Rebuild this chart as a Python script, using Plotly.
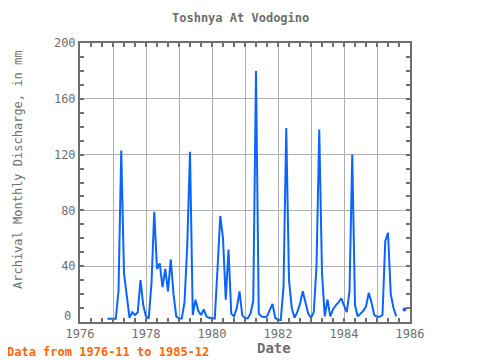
import pandas as pd
import plotly.graph_objects as go

start_month = "1976-11"
end_month = "1985-12"
discharge = [
    2.4, 2.4, 2.4, 2.4, 22, 123, 35, 20, 3, 7, 5, 7, 30, 12,
    4, 2.5, 28, 79, 38, 42, 25, 38, 22, 45, 20, 4,
    2.5, 2.5, 14, 55, 122, 5, 16, 8, 5, 9, 4, 3,
    2.5, 2.5, 38, 76, 60, 16, 52, 6, 4, 10, 22, 5,
    2.6, 2.6, 6, 15, 180, 6, 4, 3.5, 4, 8, 13, 3,
    1.5, 1.5, 25, 139, 30, 10, 3, 7, 13, 22, 14, 6,
    3, 7, 40, 138, 35, 4, 16, 4, 9, 12, 14, 17,
    12, 7, 22, 120, 12, 4, 6, 8, 11, 21, 14, 5,
    3.8, 3.8, 5, 58, 64, 20, 10, 4, None, None, 9, None,
]
year_ticks = list(range(1976, 1987))
y_ticks = [0, 40, 80, 120, 160, 200]

periods = pd.period_range(start_month, end_month, freq="M")
xdec = [p.year + (p.month - 1) / 12 for p in periods]

# isolated points (no valid neighbours) drawn as markers
iso_x, iso_y = [], []
for i, v in enumerate(discharge):
    if v is None:
        continue
    prev_ok = i > 0 and discharge[i - 1] is not None
    next_ok = i < len(discharge) - 1 and discharge[i + 1] is not None
    if not prev_ok and not next_ok:
        iso_x.append(xdec[i])
        iso_y.append(v)

blue = "#0a64ff"
gray = "#6e6e6e"
font = "DejaVu Sans Mono"

# page has an 8px body margin: figure pixel = screen pixel - 8
W, H = 472, 352
L, R, T, B = 72, 70, 35, 38
pw, ph = W - L - R, H - T - B


def px(sx):
    return (sx - 8 - L) / pw


def py(sy):
    return (H - B - (sy - 8)) / ph


fig = go.Figure()
fig.add_trace(go.Scatter(x=xdec, y=discharge, mode="lines",
                         line=dict(color=blue, width=2), connectgaps=False,
                         showlegend=False, hoverinfo="skip"))
fig.add_trace(go.Scatter(x=iso_x, y=iso_y, mode="markers",
                         marker=dict(color=blue, size=4), showlegend=False))

fig.update_layout(
    width=W, height=H,
    margin=dict(l=L, r=R, t=T, b=B),
    paper_bgcolor="white", plot_bgcolor="white",
    font=dict(family=font, color=gray),
)
fig.update_xaxes(
    range=[1976, 1986], tickvals=year_ticks,
    ticktext=[str(y) if y % 2 == 0 else "" for y in year_ticks],
    ticks="inside", ticklen=4, tickwidth=2, tickcolor=gray,
    minor=dict(dtick=1 / 3, tick0=1976, ticks="inside", ticklen=4,
               tickwidth=2, tickcolor=gray, showgrid=False),
    showgrid=True, gridcolor="#b0b0b0", gridwidth=1,
    showline=True, linecolor=gray, linewidth=2, mirror="allticks",
    tickfont=dict(family=font, size=12, color=gray),
    zeroline=False,
)
fig.update_yaxes(
    range=[0, 200], tickvals=y_ticks,
    ticktext=["" if v == 0 else str(v) for v in y_ticks],
    ticks="inside", ticklen=4, tickwidth=2, tickcolor=gray,
    minor=dict(dtick=10, ticks="inside", ticklen=4, tickwidth=2,
               tickcolor=gray, showgrid=False),
    showgrid=True, gridcolor="#b0b0b0", gridwidth=1,
    showline=True, linecolor=gray, linewidth=2, mirror="allticks",
    tickfont=dict(family=font, size=12, color=gray),
    zeroline=False,
)
# the zero label sits a little above the axis corner, as in the reference
fig.add_annotation(text=str(y_ticks[0]), xref="paper", yref="paper",
                   x=px(73), y=py(316), xanchor="right", yanchor="middle",
                   showarrow=False, font=dict(family=font, size=12, color=gray))
fig.add_annotation(text="<b>Toshnya At Vodogino</b>", xref="paper", yref="paper",
                   x=px(240), y=py(18), xanchor="center", yanchor="middle",
                   showarrow=False, font=dict(family=font, size=12, color=gray))
fig.add_annotation(text="Archival Monthly Discharge, in mm", xref="paper",
                   yref="paper", x=px(18), y=py(170), textangle=-90,
                   xanchor="center", yanchor="middle", showarrow=False,
                   font=dict(family=font, size=12, color=gray))
fig.add_annotation(text="<b>Date</b>", xref="paper", yref="paper",
                   x=px(274), y=py(348), xanchor="center", yanchor="middle",
                   showarrow=False, font=dict(family=font, size=14, color=gray))
fig.add_annotation(text="<b>Data from 1976-11 to 1985-12</b>", xref="paper",
                   yref="paper", x=px(5), y=py(352), xanchor="left",
                   yanchor="middle", showarrow=False,
                   font=dict(family=font, size=12, color="#ff6600"))

fig.write_html("out.html")
